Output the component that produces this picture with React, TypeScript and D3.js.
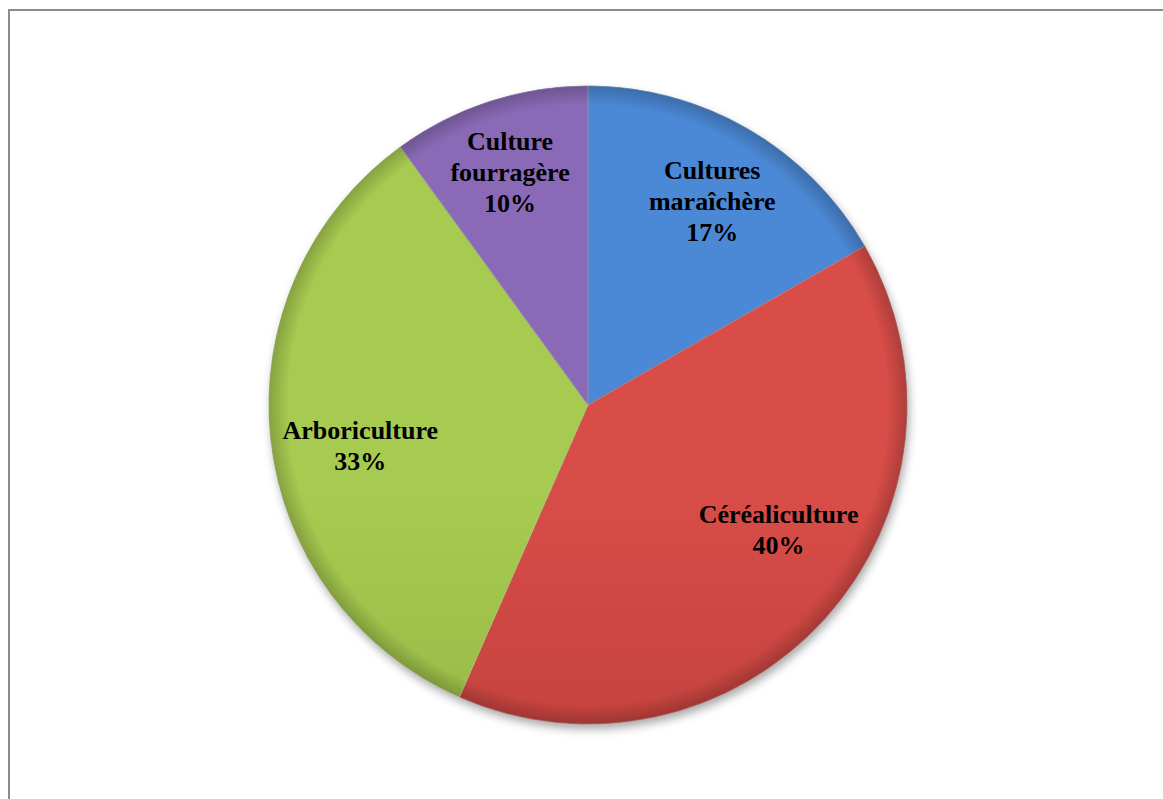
import React from "react";
import * as d3 from "d3";

const categories = ["Cultures maraîchère", "Céréaliculture", "Arboriculture", "Culture fourragère"];
const labelLines = [["Cultures", "maraîchère"], ["Céréaliculture"], ["Arboriculture"], ["Culture", "fourragère"]];
const values = [16.7, 39.9, 33.4, 10.0];
const topColors = ["#4b88d5", "#d84d48", "#a7cb50", "#8a6ab7"];
const bottomColors = ["#3366ab", "#a5322e", "#82a038", "#684a93"];

const W = 1163;
const H = 799;
const cx = 588;
const cy = 405;
const R = 319;
// best-fit label nudges (layout only), relative to centroid
const labelNudge: [number, number][] = [
  [6, 0],
  [15, -33],
  [7, 15],
  [-5, -9],
];

export default function App() {
  const pie = d3.pie<number>().sort(null).value((d) => d);
  const arcs = pie(values);
  const arcGen = d3.arc<d3.PieArcDatum<number>>().innerRadius(0).outerRadius(R);
  const labelArc = d3.arc<d3.PieArcDatum<number>>().innerRadius(R * 0.74).outerRadius(R * 0.74);
  const total = d3.sum(values);
  const fmt = (v: number) => `${Math.round((v / total) * 100)}%`;
  const lineH = 31;

  return (
    <svg width={W} height={H} style={{ position: "absolute", left: 0, top: 0 }}>
      <defs>
        {values.map((_, i) => (
          <linearGradient key={i} id={`g${i}`} gradientUnits="userSpaceOnUse" x1={0} y1={cy - R} x2={0} y2={cy + R}>
            <stop offset="0%" stopColor={topColors[i]} />
            <stop offset="100%" stopColor={bottomColors[i]} />
          </linearGradient>
        ))}
        <radialGradient id="bevel" gradientUnits="userSpaceOnUse" cx={cx} cy={cy} r={R}>
          <stop offset="94%" stopColor="#000" stopOpacity={0} />
          <stop offset="100%" stopColor="#000" stopOpacity={0.2} />
        </radialGradient>
        <filter id="shadow" x="-20%" y="-20%" width="140%" height="140%">
          <feDropShadow dx={2} dy={5} stdDeviation={5} floodColor="#000" floodOpacity={0.35} />
        </filter>
      </defs>
      <rect x={9} y={10} width={W + 10} height={H + 10} fill="#fff" stroke="#8c8c8c" strokeWidth={2} />
      <g filter="url(#shadow)">
        <circle cx={cx} cy={cy} r={R} fill="#888" />
      </g>
      <g transform={`translate(${cx},${cy})`}>
        {arcs.map((a, i) => (
          <path key={i} d={arcGen(a) || ""} fill={`url(#g${i})`} stroke={bottomColors[i]} strokeWidth={1} strokeOpacity={0.7} />
        ))}
      </g>
      <circle cx={cx} cy={cy} r={R} fill="url(#bevel)" />
      <g transform={`translate(${cx},${cy})`}>
        {arcs.map((a, i) => (
          <path key={i} d={arcGen(a) || ""} fill="none" stroke="#ffffff" strokeOpacity={0.2} strokeWidth={1} />
        ))}
      </g>
      <g transform={`translate(${cx},${cy})`} fontFamily="'Liberation Serif', 'Times New Roman', serif" fontWeight="bold" fontSize={26} fill="#000" textAnchor="middle">
        {arcs.map((a, i) => {
          const c = labelArc.centroid(a);
          const lx = c[0] + labelNudge[i][0];
          const ly = c[1] + labelNudge[i][1];
          const lines = [...labelLines[i], fmt(values[i])];
          const y0 = ly - ((lines.length - 1) * lineH) / 2;
          return (
            <text key={i} dominantBaseline="central">
              {lines.map((t, j) => (
                <tspan key={j} x={lx} y={y0 + j * lineH} dominantBaseline="central">
                  {t}
                </tspan>
              ))}
            </text>
          );
        })}
      </g>
    </svg>
  );
}
